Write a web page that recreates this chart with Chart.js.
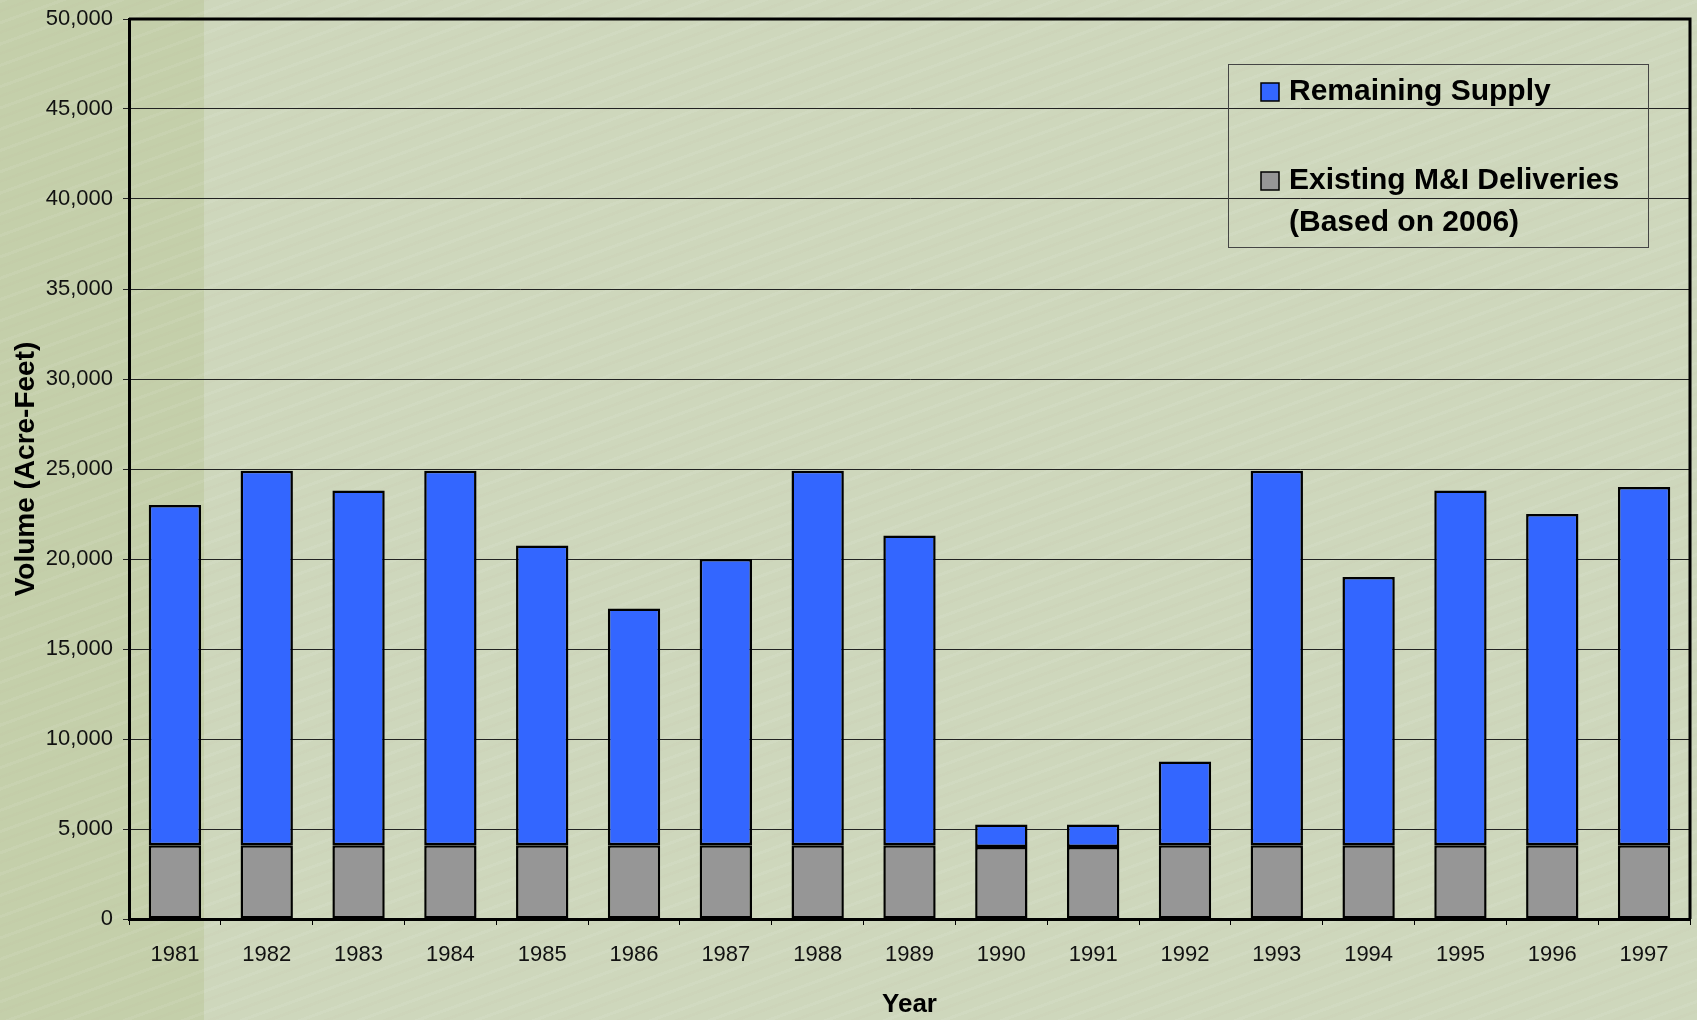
<!DOCTYPE html>
<html>
<head>
<meta charset="utf-8">
<script src="https://cdn.jsdelivr.net/npm/chart.js@4.4.1/dist/chart.umd.min.js"></script>
<style>
  html, body { margin: 0; padding: 0; }
  #wrap {
    position: relative;
    width: 1697px;
    height: 1020px;
    background:
      repeating-linear-gradient(160deg, rgba(255,255,255,0.07) 0 3px, rgba(0,0,0,0) 3px 9px, rgba(190,170,150,0.05) 9px 12px, rgba(0,0,0,0) 12px 20px),
      linear-gradient(to right, #c4cfaa 0, #c4cfaa 204px, #ced7bc 204px, #ced7bc 100%);
  }
  canvas { display: block; }
</style>
</head>
<body>
<div id="wrap">
  <canvas id="myChart" width="1697" height="1020"></canvas>
</div>
<script>
// Veriler
const years = ['1981', '1982', '1983', '1984', '1985', '1986', '1987', '1988', '1989',
  '1990', '1991', '1992', '1993', '1994', '1995', '1996', '1997'];
const existingDeliveries = [4100, 4100, 4100, 4100, 4100, 4100, 4100, 4100, 4100,
  4000, 4000, 4100, 4100, 4100, 4100, 4100, 4100];
const remainingSupply = [18900, 20800, 19700, 20800, 16650, 13150, 15900, 20800, 17200,
  1250, 1250, 4650, 20800, 14900, 19700, 18400, 19900];
const yTicks = [0, 5000, 10000, 15000, 20000, 25000, 30000, 35000, 40000, 45000, 50000];

const labelFont = 'Liberation Sans, Arial, sans-serif';

// Üst ve sağ çerçeve çizgisi
const frame = {
  id: 'frame',
  afterDraw(chart) {
    const { ctx, chartArea: a } = chart;
    ctx.save();
    ctx.strokeStyle = '#000';
    ctx.lineWidth = 3;
    ctx.beginPath();
    ctx.moveTo(a.left, a.top);
    ctx.lineTo(a.right, a.top);
    ctx.lineTo(a.right, a.bottom);
    ctx.stroke();
    ctx.restore();
  }
};

// Grafik içindeki lejant kutusu
const boxLegend = {
  id: 'boxLegend',
  afterDraw(chart) {
    const { ctx, chartArea: a } = chart;
    const x = a.right - 462, y = a.top + 45, w = 420, h = 183;
    ctx.save();
    ctx.strokeStyle = '#444';
    ctx.lineWidth = 1;
    ctx.strokeRect(x + 0.5, y + 0.5, w, h);
    ctx.font = 'bold 30px ' + labelFont;
    ctx.textBaseline = 'middle';
    const items = [chart.data.datasets[1], chart.data.datasets[0]];
    const rows = [y + 28, y + 117];
    items.forEach((ds, i) => {
      const cy = rows[i];
      ctx.fillStyle = ds.backgroundColor;
      ctx.fillRect(x + 33, cy - 9, 18, 18);
      ctx.strokeStyle = '#000';
      ctx.lineWidth = 1.5;
      ctx.strokeRect(x + 33, cy - 9, 18, 18);
      ctx.fillStyle = '#000';
      const lines = ds.label.split('\n');
      lines.forEach((t, j) => ctx.fillText(t, x + 61, cy + j * 42));
    });
    ctx.restore();
  }
};

const ctx = document.getElementById('myChart').getContext('2d');

let myChart = new Chart(ctx, {
  type: 'bar',
  data: {
    labels: years,
    datasets: [{
      label: 'Existing M&I Deliveries\n(Based on 2006)',
      data: existingDeliveries,
      backgroundColor: '#969696',
      borderColor: '#000',
      borderWidth: 2.5,
      borderSkipped: false
    }, {
      label: 'Remaining Supply',
      data: remainingSupply,
      backgroundColor: '#3366ff',
      borderColor: '#000',
      borderWidth: 2.5,
      borderSkipped: false
    }]
  },
  options: {
    responsive: false,
    animation: false,
    devicePixelRatio: 1,
    layout: { padding: { top: 19, right: 7, left: 0, bottom: 0 } },
    datasets: {
      bar: { categoryPercentage: 1, barPercentage: 0.57 }
    },
    plugins: {
      legend: { display: false },
      tooltip: { enabled: false }
    },
    scales: {
      x: {
        stacked: true,
        afterFit: s => { s.height = 101; s.paddingLeft = 0; s.paddingRight = 0; },
        grid: {
          offset: true,
          drawOnChartArea: false,
          drawTicks: true,
          tickLength: 6,
          color: '#000',
          lineWidth: 1
        },
        border: { display: true, color: '#000', width: 3 },
        ticks: {
          color: '#111',
          padding: 17,
          font: { family: labelFont, size: 22 }
        },
        title: {
          display: true,
          text: 'Year',
          color: '#000',
          padding: { top: 0, bottom: 0 },
          font: { family: labelFont, size: 26, weight: 'bold' }
        }
      },
      y: {
        stacked: true,
        min: 0,
        max: 50000,
        afterFit: s => { s.width = 129; s.paddingTop = 0; s.paddingBottom = 0; },
        afterBuildTicks: s => { s.ticks = yTicks.map(v => ({ value: v })); },
        grid: {
          color: '#222',
          lineWidth: 1,
          drawTicks: true,
          tickLength: 6
        },
        border: { display: true, color: '#000', width: 3 },
        ticks: {
          color: '#111',
          padding: 10,
          font: { family: labelFont, size: 22 },
          callback: v => v.toLocaleString('en-US')
        },
        title: {
          display: true,
          text: 'Volume (Acre-Feet)',
          color: '#000',
          padding: { top: 9, bottom: 0 },
          font: { family: labelFont, size: 28, weight: 'bold' }
        }
      }
    }
  },
  plugins: [frame, boxLegend]
});
</script>
</body>
</html>
